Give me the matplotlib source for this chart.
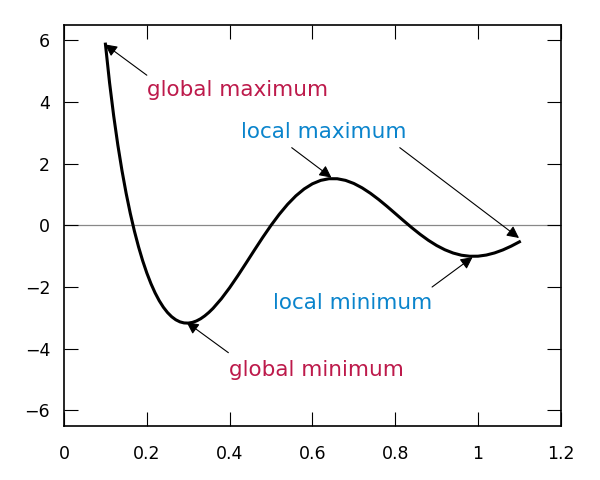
import matplotlib
matplotlib.use('Agg')
import matplotlib.pyplot as plt

# pontos
x = [0.10, 0.11, 0.12, 0.13, 0.14, 0.15, 0.16, 0.17, 0.18, 0.19, 0.20,
     0.21, 0.22, 0.23, 0.24, 0.25, 0.26, 0.27, 0.28, 0.29, 0.30,
     0.31, 0.32, 0.33, 0.34, 0.35, 0.36, 0.38, 0.40,
     0.42, 0.44, 0.46, 0.48, 0.50, 0.52, 0.54, 0.56, 0.58, 0.60,
     0.62, 0.64, 0.66, 0.68, 0.70, 0.72, 0.74, 0.76, 0.78, 0.80,
     0.82, 0.84, 0.86, 0.88, 0.90, 0.92, 0.94, 0.96, 0.98, 1.00,
     1.02, 1.04, 1.06, 1.08, 1.10]
y = [5.878, 4.627, 3.548, 2.605, 1.776, 1.043, 0.392, -0.185, -0.696, -1.148, -1.545,
     -1.891, -2.190, -2.444, -2.656, -2.828, -2.963, -3.063, -3.130, -3.165, -3.170,
     -3.148, -3.100, -3.029, -2.935, -2.822, -2.691, -2.381, -2.023,
     -1.630, -1.218, -0.800, -0.390, 0.000, 0.360, 0.682, 0.957, 1.180, 1.348,
     1.459, 1.513, 1.512, 1.459, 1.359, 1.217, 1.041, 0.839, 0.618, 0.386,
     0.153, -0.075, -0.289, -0.484, -0.653, -0.792, -0.898, -0.969, -1.002, -1.000,
     -0.963, -0.894, -0.797, -0.675, -0.534]

# rótulos: (texto, cor, posição do texto, lista de (cauda, ponta) das setas)
red = '#bd1a4b'
blue = '#0a84cc'
labels = ['global maximum', 'local maximum', 'local minimum', 'global minimum']
label_colors = [red, blue, blue, red]
label_pos = [(0.20, 4.19), (0.427, 2.82), (0.505, -2.71), (0.399, -4.87)]
arrows = [
    [((0.20, 4.87), (0.099, 5.87))],
    [((0.55, 2.52), (0.646, 1.55)), ((0.811, 2.52), (1.099, -0.41))],
    [((0.889, -2.0), (0.987, -1.03))],
    [((0.397, -4.13), (0.296, -3.14))],
]

fig = plt.figure(figsize=(6, 4.8), dpi=100)
ax = fig.add_axes([0.1067, 0.113, 0.828, 0.835])

ax.axhline(0, color='#888888', lw=0.9, zorder=1)
ax.plot(x, y, color='black', lw=2.2, zorder=3)

for txt, c, pos, arr in zip(labels, label_colors, label_pos, arrows):
    ax.text(pos[0], pos[1], txt, color=c, fontsize=15.5, ha='left', va='baseline')
    for tail, tip in arr:
        ax.annotate('', xy=tip, xytext=tail,
                    arrowprops=dict(arrowstyle='-|>', color='black', lw=0.8,
                                    mutation_scale=18, shrinkA=0, shrinkB=0))

ax.set_xlim(0, 1.2)
ax.set_ylim(-6.5, 6.5)
ax.set_xticks([0, 0.2, 0.4, 0.6, 0.8, 1.0, 1.2])
ax.set_xticklabels(['0', '0.2', '0.4', '0.6', '0.8', '1', '1.2'])
ax.set_yticks([-6, -4, -2, 0, 2, 4, 6])
ax.set_yticklabels(['\u22126', '\u22124', '\u22122', '0', '2', '4', '6'])
ax.tick_params(direction='in', length=10, width=0.8, labelsize=12.5,
               top=True, right=True, pad=10)
ax.tick_params(axis='x', pad=14)
for s in ax.spines.values():
    s.set_linewidth(1.2)

plt.savefig('out.png', dpi=100)
